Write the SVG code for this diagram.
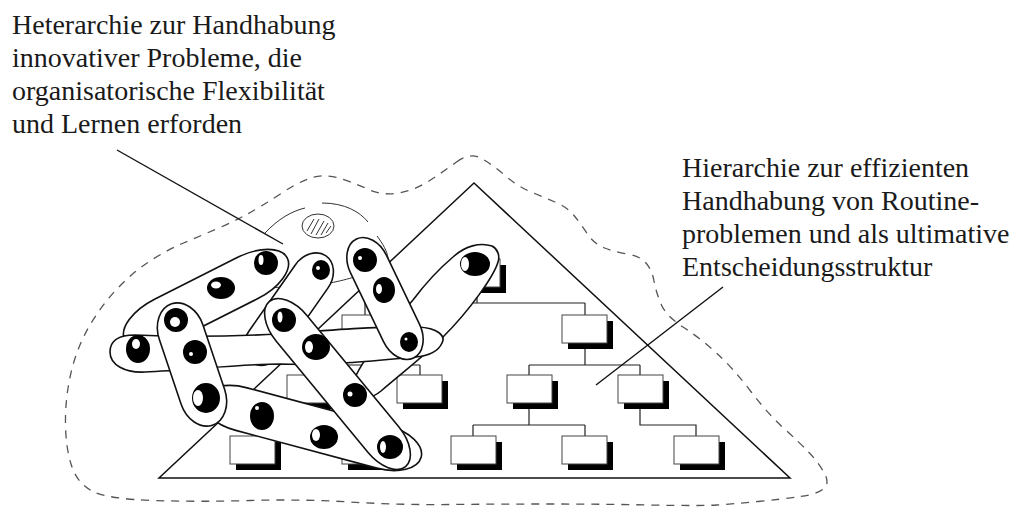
<svg xmlns="http://www.w3.org/2000/svg" width="1014" height="508" viewBox="0 0 1014 508">
  <style>
    .lbl { font-family: "Liberation Serif", "Times New Roman", serif; font-size: 28px; fill: #1a1a1a; }
    .outline { fill: none; stroke: #555; stroke-width: 1.3; stroke-dasharray: 8 7; }
    .tri { fill: none; stroke: #111; stroke-width: 1.5; }
    .wire { fill: none; stroke: #222; stroke-width: 1.2; }
    .lead { fill: none; stroke: #111; stroke-width: 1.4; }
    .box { fill: #fff; stroke: #444; stroke-width: 1; }
    .sh { fill: #000; }
    .faint { fill: none; stroke: #333; stroke-width: 1; }
    .cap { fill: #fff; stroke: #111; stroke-width: 1.6; }
    .dot { fill: #000; }
    .hl { fill: #fff; }
  </style>
  <defs>
    <g id="unit">
      <rect class="sh" x="6" y="6" width="45" height="28"/>
      <rect class="box" x="0" y="0" width="45" height="28"/>
    </g>
  </defs>

  <rect width="1014" height="508" fill="#fff"/>

  <!-- dashed organisational boundary -->
  <path id="boundary" class="outline" d="M 456.5,162 Q 470,152 481.5,158.5 Q 493,165 505,175.5 Q 517,186 530,191.5 Q 543,197 555,202 Q 567,207 574,215.5 Q 581,224 587.5,234 Q 594,244 604.5,248 Q 615,252 627.5,254 Q 640,256 646,263 Q 652,270 654,281 Q 656,292 661,304 Q 666,316 683,327 Q 700,338 716.5,353 Q 733,368 750.5,391 Q 768,414 784,428.5 Q 800,443 809,452.5 Q 818,462 824,472.5 Q 830,483 824,488.5 Q 818,494 800.5,496.5 Q 783,499 758,501.5 Q 733,504 716.5,505 Q 700,506 650,505 Q 600,504 550,504 Q 500,504 450,504.5 Q 400,505 350,502 Q 300,499 250,500.5 Q 200,502 154,500.5 Q 108,499 93,491.5 Q 78,484 72,467 Q 66,450 65.5,425 Q 65,400 70.5,375 Q 76,350 88,328.5 Q 100,307 116.5,289.5 Q 133,272 150,261 Q 167,250 183.5,243 Q 200,236 216.5,229 Q 233,222 247.5,214 Q 262,206 281,193.5 Q 300,181 312.5,177.5 Q 325,174 338.5,178 Q 352,182 367.5,189 Q 383,196 399,193 Q 415,190 429,181 Q 443,172 456.5,162 Z"/>

  <!-- hierarchy pyramid -->
  <polygon id="pyramid" class="tri" points="474,183 159,478 790,478"/>

  <!-- tree connectors -->
  <g id="connectors" class="wire">
    <path d="M477,293 V303 M365,303 H585 M365,303 V315 M585,303 V315"/>
    <path d="M365,343 V365 M309,365 H420 M309,365 V375 M420,365 V375"/>
    <path d="M585,343 V365 M529,365 H640 M529,365 V375 M640,365 V375"/>
    <path d="M309,403 V425 M252,425 H365 M252,425 V436 M365,425 V436"/>
    <path d="M529,403 V425 M473,425 H585 M473,425 V436 M585,425 V436"/>
    <path d="M640,403 V425 H696 V436"/>
  </g>

  <!-- hierarchy units -->
  <g id="unit-top"><use href="#unit" x="455" y="259"/></g>
  <g id="unit-b1"><use href="#unit" x="342" y="315"/></g>
  <g id="unit-b2"><use href="#unit" x="562" y="315"/></g>
  <g id="unit-c1"><use href="#unit" x="287" y="375"/></g>
  <g id="unit-c2"><use href="#unit" x="397" y="375"/></g>
  <g id="unit-c3"><use href="#unit" x="507" y="375"/></g>
  <g id="unit-c4"><use href="#unit" x="618" y="375"/></g>
  <g id="unit-d1"><use href="#unit" x="230" y="436"/></g>
  <g id="unit-d2"><use href="#unit" x="342" y="436"/></g>
  <g id="unit-d3"><use href="#unit" x="451" y="436"/></g>
  <g id="unit-d4"><use href="#unit" x="562" y="436"/></g>
  <g id="unit-d5"><use href="#unit" x="674" y="436"/></g>

  <!-- faint outer ring with hatched core -->
  <g id="ring" class="faint">
    <path d="M265,233 C278,219 292,211 305,208"/>
    <path d="M322,203 C345,203 360,212 368,222"/>
    <path d="M377,236 C383,244 387,251 388,258"/>
    <path d="M272,288 L288,286"/>
    <path d="M330,283 C340,281 348,279 354,277"/>
    <ellipse cx="318" cy="226" rx="16" ry="12" fill="#fff"/>
    <path d="M307,231 L314,219 M311,234 L319,219 M316,235 L324,221 M321,235 L328,223 M326,233 L331,226"/>
  </g>

  <!-- project teams -->
  <g id="team-e">
    <rect class="cap" x="-65" y="-20" width="130" height="40" rx="25" ry="20" transform="translate(288.7,309.2) rotate(-55)"/>
    <ellipse class="dot" cx="321" cy="270" rx="9" ry="10"/>
    <ellipse class="hl" cx="318" cy="268" rx="2" ry="2"/>
  </g>

  <g id="team-a">
    <rect class="cap" x="-91" y="-23" width="182" height="46" rx="45" ry="23" transform="translate(206,299) rotate(-26.8)"/>
    <ellipse class="dot" cx="266" cy="263" rx="12" ry="12"/>
    <ellipse class="hl" cx="261" cy="260" rx="2.5" ry="5"/>
    <ellipse class="dot" cx="221" cy="288" rx="14" ry="11"/>
    <ellipse class="hl" cx="216" cy="285" rx="5" ry="3.5"/>
  </g>

  <g id="team-g">
    <path class="cap" d="M498,262 C494,276 470,310 443,337 C430,351 408,368 381,391 C368,402 355,398 352,385 C360,360 395,320 413,300 C425,284 440,268 453,257 C465,246 480,242 492,246 C498,249 500,256 498,262 Z"/>
    <ellipse class="dot" cx="475" cy="264" rx="15" ry="12"/>
    <ellipse class="hl" cx="465" cy="264" rx="4" ry="7"/>
  </g>

  <g id="team-h">
    <path class="cap" d="M110,352 C110,340 120,335 135,335 C180,337 240,336 280,334 C330,330 380,326 418,327 C438,328 446,336 442,343 C438,352 428,356 415,357 C380,360 330,366 280,364 C240,364 190,370 145,372 C125,373 110,365 110,352 Z"/>
    <ellipse class="dot" cx="138" cy="349" rx="12" ry="14"/>
    <ellipse class="hl" cx="136" cy="344" rx="4" ry="5"/>
  </g>

  <g id="team-f">
    <rect class="cap" x="-66" y="-20" width="132" height="40" rx="28" ry="20" transform="translate(385,298.5) rotate(64.4)"/>
    <ellipse class="dot" cx="365" cy="260" rx="12" ry="12"/>
    <ellipse class="hl" cx="360" cy="258" rx="2" ry="2"/>
    <ellipse class="dot" cx="384" cy="290" rx="11" ry="13"/>
    <ellipse class="hl" cx="379" cy="289" rx="3" ry="5"/>
    <ellipse class="dot" cx="409" cy="342" rx="9" ry="10"/>
    <ellipse class="hl" cx="406" cy="339" rx="1.5" ry="1.5"/>
  </g>

  <g id="team-c">
    <rect class="cap" x="-113" y="-22" width="226" height="44" rx="40" ry="22" transform="translate(312,428) rotate(15)"/>
    <ellipse class="dot" cx="262" cy="416" rx="12" ry="14"/>
    <ellipse class="hl" cx="257" cy="408" rx="2" ry="2"/>
    <ellipse class="dot" cx="324" cy="437" rx="14" ry="12"/>
    <ellipse class="hl" cx="316" cy="435" rx="4" ry="6"/>
  </g>

  <g id="team-b">
    <rect class="cap" x="-64" y="-23" width="128" height="46" rx="30" ry="23" transform="translate(192,364.5) rotate(71.4)"/>
    <ellipse class="dot" cx="176" cy="320" rx="12" ry="12"/>
    <ellipse class="hl" cx="175" cy="322" rx="5" ry="5"/>
    <ellipse class="dot" cx="195" cy="352" rx="12" ry="12"/>
    <ellipse class="hl" cx="191" cy="354" rx="2" ry="2"/>
    <ellipse class="dot" cx="206" cy="398" rx="14" ry="15"/>
    <ellipse class="hl" cx="198" cy="398" rx="5" ry="8"/>
  </g>

  <g id="team-d">
    <rect class="cap" x="-107" y="-20" width="214" height="40" rx="35" ry="20" transform="translate(337.5,384) rotate(50.5)"/>
    <ellipse class="dot" cx="284" cy="320" rx="12" ry="12"/>
    <ellipse class="hl" cx="280" cy="317" rx="2.5" ry="5.5"/>
    <ellipse class="dot" cx="316" cy="347" rx="14" ry="13"/>
    <ellipse class="hl" cx="309" cy="347" rx="4" ry="6"/>
    <ellipse class="dot" cx="355" cy="395" rx="12" ry="12"/>
    <ellipse class="hl" cx="350" cy="394" rx="2.5" ry="2.5"/>
    <ellipse class="dot" cx="390" cy="447" rx="13" ry="12"/>
    <ellipse class="hl" cx="383" cy="447" rx="3" ry="6"/>
  </g>

  <!-- label leaders -->
  <g id="leaders" class="lead">
    <line x1="117" y1="150" x2="283" y2="244"/>
    <line x1="723" y1="287" x2="596" y2="385"/>
  </g>

  <g id="label-heterarchy">
    <text class="lbl" x="12" y="34">Heterarchie zur Handhabung</text>
    <text class="lbl" x="12" y="67">innovativer Probleme, die</text>
    <text class="lbl" x="12" y="100">organisatorische Flexibilität</text>
    <text class="lbl" x="12" y="133">und Lernen erforden</text>
  </g>

  <g id="label-hierarchy">
    <text class="lbl" x="682" y="177">Hierarchie zur effizienten</text>
    <text class="lbl" x="682" y="210">Handhabung von Routine-</text>
    <text class="lbl" x="682" y="243">problemen und als ultimative</text>
    <text class="lbl" x="682" y="276">Entscheidungsstruktur</text>
  </g>
</svg>
